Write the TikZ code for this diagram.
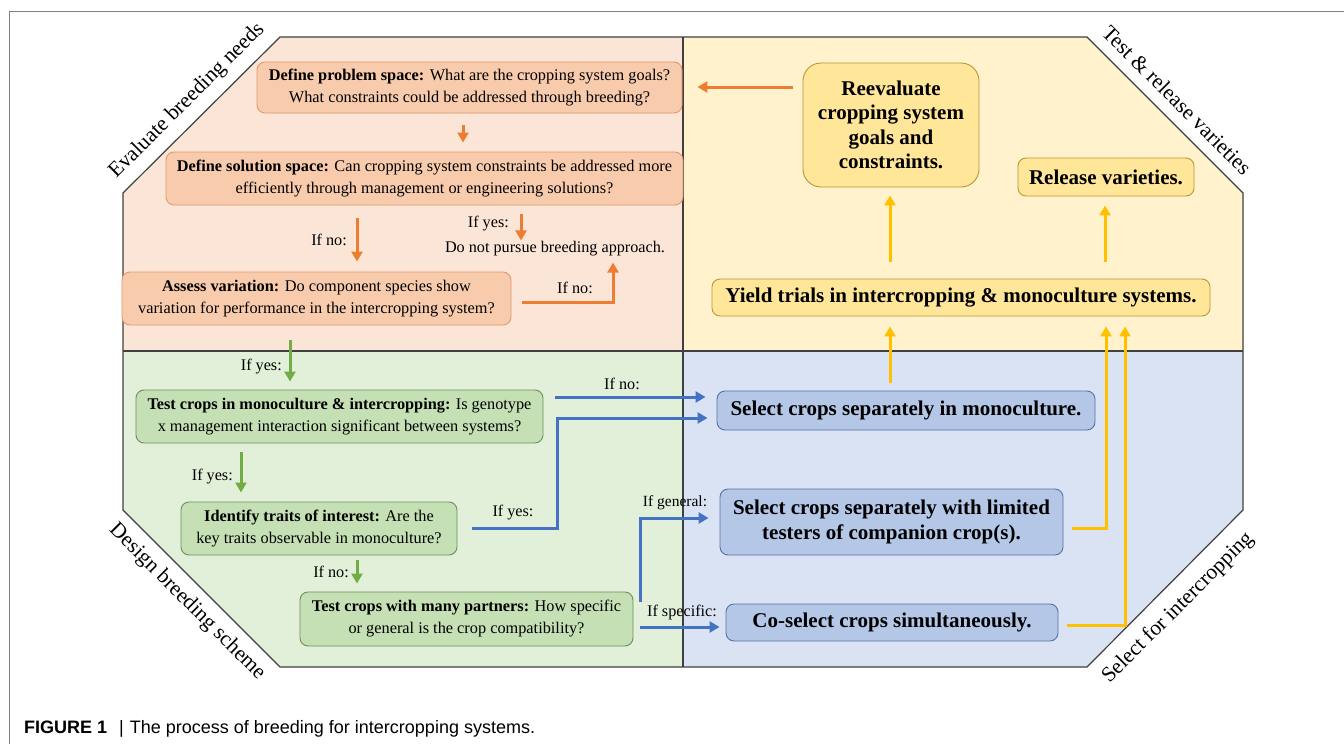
\documentclass[tikz,border=0pt]{standalone}
\usepackage{fontspec}
\setmainfont{Liberation Serif}
\newfontfamily\capfont{Liberation Sans}
\usetikzlibrary{arrows.meta}

\definecolor{peach}{HTML}{FBE5D6}
\definecolor{peachbox}{HTML}{F8CBAD}
\definecolor{peachedge}{HTML}{E09A6E}
\definecolor{orangeline}{HTML}{ED7D31}
\definecolor{cream}{HTML}{FFF2CC}
\definecolor{creambox}{HTML}{FFE699}
\definecolor{creamedge}{HTML}{B8963A}
\definecolor{goldline}{HTML}{FFC000}
\definecolor{mint}{HTML}{E2F0D9}
\definecolor{mintbox}{HTML}{C5E0B4}
\definecolor{mintedge}{HTML}{6E8F5A}
\definecolor{greenline}{HTML}{70AD47}
\definecolor{sky}{HTML}{DAE3F3}
\definecolor{skybox}{HTML}{B4C7E7}
\definecolor{skyedge}{HTML}{5571A6}
\definecolor{blueline}{HTML}{4472C4}
\definecolor{rim}{HTML}{404040}

\begin{document}
\begin{tikzpicture}[
        x=1pt, y=-1pt,
        box/.style={
            rounded corners=8pt,
            line width=0.9pt,
            align=center,
            inner sep=0pt,
            font=\fontsize{16.3}{22}\selectfont
        },
        pbox/.style={box, fill=peachbox, draw=peachedge},
        gbox/.style={box, fill=mintbox, draw=mintedge},
        bbox/.style={box, fill=skybox, draw=skyedge,
            font=\fontsize{21}{25}\selectfont\bfseries},
        ybox/.style={box, fill=creambox, draw=creamedge,
            font=\fontsize{21}{24.5}\selectfont\bfseries},
        lbl/.style={
            inner sep=0pt,
            font=\fontsize{16.2}{18}\selectfont
        },
        corner/.style={
            inner sep=0pt,
            font=\fontsize{21.5}{24}\selectfont
        },
        oarr/.style={orangeline, line width=3pt, -{Triangle[length=10pt,width=11pt]}},
        garr/.style={greenline, line width=3pt, -{Triangle[length=10pt,width=11pt]}},
        barr/.style={blueline, line width=3pt, -{Triangle[length=10pt,width=11pt]}},
        yarr/.style={goldline, line width=3pt, -{Triangle[length=10pt,width=11pt]}}
    ]
        \useasboundingbox (0,0) rectangle (1344,744);

        % Frame
        \draw[gray, line width=1pt] (9,744) -- (9,11) -- (1344,11);

        % Octagon corners
        \coordinate (tl1) at (123,193);
        \coordinate (tl2) at (280,37);
        \coordinate (tr1) at (1087,37);
        \coordinate (tr2) at (1243,193);
        \coordinate (br1) at (1243,510);
        \coordinate (br2) at (1087,667);
        \coordinate (bl1) at (280,667);
        \coordinate (bl2) at (123,510);

        % Quadrants
        \fill[peach] (123,351) -- (tl1) -- (tl2) -- (683,37) -- (683,351) -- cycle;
        \fill[cream] (683,37) -- (tr1) -- (tr2) -- (1243,351) -- (683,351) -- cycle;
        \fill[mint] (123,351) -- (bl2) -- (bl1) -- (683,667) -- (683,351) -- cycle;
        \fill[sky] (683,351) -- (1243,351) -- (br1) -- (br2) -- (683,667) -- cycle;
        \draw[rim, line width=1.2pt] (tl1) -- (tl2) -- (tr1) -- (tr2) -- (br1) -- (br2)
            -- (bl1) -- (bl2) -- cycle;
        \draw[rim, line width=1.2pt] (683,37) -- (683,667);
        \draw[rim, line width=1.2pt] (123,351) -- (1243,351);

        % Corner titles
        \node[corner, rotate=45] (evalt) at (187,101) {Evaluate breeding needs};
        \node[corner, rotate=-45] (testt) at (1177,100) {Test \& release varieties};
        \node[corner, rotate=-45] (designt) at (187,602) {Design breeding scheme};
        \node[corner, rotate=45] (selt) at (1178,608) {Select for intercropping};

        % Evaluate breeding needs
        \node[pbox, minimum width=425pt, minimum height=51pt] (prob) at (469.5,87.5)
            {\textbf{Define problem space:} What are the cropping system goals?\\
             What constraints could be addressed through breeding?};
        \node[pbox, minimum width=517pt, minimum height=53pt] (sol) at (424.5,178.5)
            {\textbf{Define solution space:} Can cropping system constraints be addressed more\\
             efficiently through management or engineering solutions?};
        \node[pbox, minimum width=389pt, minimum height=53pt] (assess) at (316.5,298.5)
            {\textbf{Assess variation:} Do component species show\\
             variation for performance in the intercropping system?};
        \node[lbl] (nopursue) at (555,249) {Do not pursue breeding approach.};

        % Design breeding scheme
        \node[gbox, minimum width=407pt, minimum height=53pt] (mono) at (339.5,416.5)
            {\textbf{Test crops in monoculture \& intercropping:} Is genotype\\
             x management interaction significant between systems?};
        \node[gbox, minimum width=276pt, minimum height=53pt] (traits) at (319,528.5)
            {\textbf{Identify traits of interest:} Are the\\
             key traits observable in monoculture?};
        \node[gbox, minimum width=333pt, minimum height=54pt] (partners) at (466.5,619)
            {\textbf{Test crops with many partners:} How specific\\
             or general is the crop compatibility?};

        % Select for intercropping
        \node[bbox, minimum width=378pt, minimum height=39pt] (selmono) at (906,410.5)
            {Select crops separately in monoculture.};
        \node[bbox, minimum width=343pt, minimum height=66pt] (seltest) at (891.5,522)
            {Select crops separately with limited\\ testers of companion crop(s).};
        \node[bbox, minimum width=332pt, minimum height=37pt] (cosel) at (892,622.5)
            {Co-select crops simultaneously.};

        % Test & release varieties
        \node[ybox, rounded corners=18pt, minimum width=176pt, minimum height=124pt] (reeval) at (891,125)
            {Reevaluate\\ cropping system\\ goals and\\ constraints.};
        \node[ybox, minimum width=176pt, minimum height=38pt] (release) at (1106,177)
            {Release varieties.};
        \node[ybox, minimum width=498pt, minimum height=37pt] (yield) at (961,297.5)
            {Yield trials in intercropping \& monoculture systems.};

        % Orange arrows
        \draw[oarr, shorten <=12pt, shorten >=9pt] (prob.south -| 463,0) -- (sol.north -| 463,0);
        \draw[oarr, shorten <=13pt, shorten >=10pt] (sol.south -| 357,0) -- (assess.north -| 357,0);
        \draw[oarr, shorten <=9pt, shorten >=1pt] (sol.south -| 521,0) -- (nopursue.north -| 521,0);
        \draw[oarr, shorten >=6pt] ([shift={(11,3.5)}]assess.east) -| (nopursue.south -| 613,0);
        \draw[oarr, shorten <=10pt, shorten >=15pt] (reeval.west |- 0,87) -- (prob.east |- 0,87);
        \node[lbl, anchor=east] (ifno1) at (347,240) {If no:};
        \node[lbl, anchor=east] (ifyes1) at (509,224) {If yes:};
        \node[lbl] (ifno2) at (575,288) {If no:};

        % Green arrows
        \draw[garr, shorten <=15pt, shorten >=8pt] (assess.south -| 290,0) -- (mono.north -| 290,0);
        \draw[garr, shorten <=9pt, shorten >=9pt] (mono.south -| 241,0) -- (traits.north -| 241,0);
        \draw[garr, shorten <=5pt, shorten >=8pt] (traits.south -| 357,0) -- (partners.north -| 357,0);
        \node[lbl, anchor=east] (ifyes2) at (282,367) {If yes:};
        \node[lbl, anchor=east] (ifyes3) at (233,477) {If yes:};
        \node[lbl, anchor=east] (ifno3) at (349,572) {If no:};

        % Blue arrows
        \draw[barr, shorten <=12pt, shorten >=11pt] (mono.east |- 0,397) -- (selmono.west |- 0,397);
        \draw[barr, shorten >=9pt] ([xshift=15pt]traits.east) -- ++(85,0) |- (selmono.west |- 0,418);
        \draw[barr, shorten >=11pt] ([shift={(7,-17)}]partners.east) |- (seltest.west |- 0,518);
        \draw[barr, shorten <=7pt, shorten >=6pt] (partners.east |- 0,627) -- (cosel.west |- 0,627);
        \node[lbl] (ifno4) at (622,384) {If no:};
        \node[lbl] (ifyes4) at (513,513) {If yes:};
        \node[lbl, font=\fontsize{15.5}{17}\selectfont] (ifgen) at (675,503) {If general:};
        \node[lbl] (ifspec) at (682,613) {If specific:};

        % Yellow arrows
        \draw[yarr, shorten <=8pt, shorten >=10pt] (selmono.north -| 890,0) -- (yield.south -| 890,0);
        \draw[yarr, shorten <=17pt, shorten >=8pt] (yield.north -| 890,0) -- (reeval.south -| 890,0);
        \draw[yarr, shorten <=17pt, shorten >=9pt] (yield.north -| 1105,0) -- (release.south -| 1105,0);
        \draw[yarr, shorten >=10pt] ([shift={(9,6)}]seltest.east) -| (yield.south -| 1106,0);
        \draw[yarr, shorten >=10pt] ([shift={(9,2.5)}]cosel.east) -| (yield.south -| 1125,0);

        % Caption
        \node[anchor=west, inner sep=0pt, font=\capfont\fontsize{18}{21}\selectfont] (cap) at (24,729)
            {\textbf{FIGURE 1}\hspace{12pt}|\hspace{6pt}The process of breeding for intercropping systems.};

    \end{tikzpicture}
\end{document}
